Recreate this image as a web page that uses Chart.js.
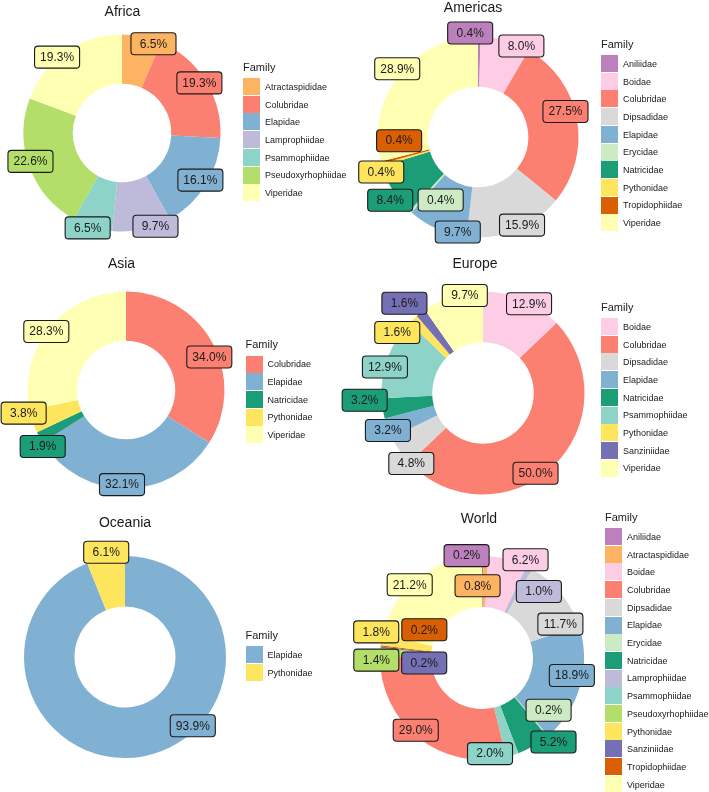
<!DOCTYPE html>
<html>
<head>
<meta charset="utf-8">
<script src="https://cdn.jsdelivr.net/npm/chart.js@4"></script>
<style>
  body { margin: 0; background: #fff; font-family: "Liberation Sans", Arial, sans-serif; }
  #fig { position: relative; width: 709px; height: 792px; overflow: hidden; }
  #fig canvas { position: absolute; }
  .title { position: absolute; font-size: 14px; color: #1a1a1a; transform: translate(-50%, -50%); white-space: nowrap; }
  .legTitle { position: absolute; font-size: 11px; color: #1a1a1a; transform: translateY(-50%); white-space: nowrap; }
  .key { position: absolute; width: 17px; height: 17px; }
  .keyText { position: absolute; font-size: 9px; color: #1a1a1a; transform: translateY(-50%); white-space: nowrap; }
</style>
</head>
<body>
<div id="fig"></div>
<script>
// family colours
const FAMILY_COLORS = {
  Aniliidae: "#bc80bd", Atractaspididae: "#fdb462", Boidae: "#fccde5",
  Colubridae: "#fb8072", Dipsadidae: "#d9d9d9", Elapidae: "#80b1d3",
  Erycidae: "#ccebc5", Natricidae: "#1b9e77", Lamprophiidae: "#bebada",
  Psammophiidae: "#8dd3c7", Pseudoxyrhophiidae: "#b3de69", Pythonidae: "#fee55e",
  Sanziniidae: "#7570b3", Tropidophiidae: "#d95f02", Viperidae: "#ffffb3",
};

// data (% of species per family)
const africaFamilies = ["Atractaspididae","Colubridae","Elapidae","Lamprophiidae","Psammophiidae","Pseudoxyrhophiidae","Viperidae"];
const africaShares = [6.5, 19.3, 16.1, 9.7, 6.5, 22.6, 19.3];

const americasFamilies = ["Aniliidae","Boidae","Colubridae","Dipsadidae","Elapidae","Erycidae","Natricidae","Pythonidae","Tropidophiidae","Viperidae"];
const americasShares = [0.4, 8.0, 27.5, 15.9, 9.7, 0.4, 8.4, 0.4, 0.4, 28.9];

const asiaFamilies = ["Colubridae","Elapidae","Natricidae","Pythonidae","Viperidae"];
const asiaShares = [34.0, 32.1, 1.9, 3.8, 28.3];

const europeFamilies = ["Boidae","Colubridae","Dipsadidae","Elapidae","Natricidae","Psammophiidae","Pythonidae","Sanziniidae","Viperidae"];
const europeShares = [12.9, 50.0, 4.8, 3.2, 3.2, 12.9, 1.6, 1.6, 9.7];

const oceaniaFamilies = ["Elapidae","Pythonidae"];
const oceaniaShares = [93.9, 6.1];

// world: slice order as drawn, legend order alphabetical
const worldFamilies = ["Aniliidae","Atractaspididae","Boidae","Lamprophiidae","Dipsadidae","Elapidae","Erycidae","Natricidae","Psammophiidae","Colubridae","Pseudoxyrhophiidae","Sanziniidae","Tropidophiidae","Pythonidae","Viperidae"];
const worldShares = [0.2, 0.8, 6.2, 1.0, 11.7, 18.9, 0.2, 5.2, 2.0, 29.0, 1.4, 0.2, 0.2, 1.8, 21.2];
const worldLegend = ["Aniliidae","Atractaspididae","Boidae","Colubridae","Dipsadidae","Elapidae","Erycidae","Natricidae","Lamprophiidae","Psammophiidae","Pseudoxyrhophiidae","Pythonidae","Sanziniidae","Tropidophiidae","Viperidae"];

// label nudges (px) away from the slice anchor, repel-style
const africaNudge = [[13,0],[0,-2],[1,-1],[15,4],[-7,8],[-6,-3],[-13,-1]];
const americasNudge = [[-9,-11],[18,-1.5],[-4,-9],[9,2],[17.5,10],[25,-6],[-9,14],[-7.5,9],[11,-20],[-7.5,-11]];
const asiaNudge = [[3.5,11],[-4,3.5],[-3.5,12.5],[-16,-6],[-9,-1]];
const europeNudge = [[9,-3],[-12,12],[5.5,17],[-7,5],[-25.5,-7],[-10,6.5],[-21,7.5],[-21,-15.6],[10,-8]];
const oceaniaNudge = [[50,-23],[-1,-13]];
const worldNudge = [[-16,-8],[-8,22],[19.5,-7],[13,17],[5.5,26],[-1,-8],[6,-20],[24,2.5],[-20,5.5],[-7.5,-1.5],[-11.5,7.5],[36,15],[36,-17],[-13,-9],[-14,1]];

const PANELS = [
  { title: "Africa",   fam: africaFamilies,   val: africaShares,   nudge: africaNudge,   leg: africaFamilies,
    cx: 121.5, cy: 133,   r: 98.5,  tx: 122.5, ty: 11,    lx: 243,   ly: 78 },
  { title: "Americas", fam: americasFamilies, val: americasShares, nudge: americasNudge, leg: americasFamilies,
    cx: 477.5, cy: 137,   r: 100.5, tx: 473,   ty: 6.5,   lx: 601,   ly: 55 },
  { title: "Asia",     fam: asiaFamilies,     val: asiaShares,     nudge: asiaNudge,     leg: asiaFamilies,
    cx: 126,   cy: 389.5, r: 98.5,  tx: 121.5, ty: 263,   lx: 245.5, ly: 355.5 },
  { title: "Europe",   fam: europeFamilies,   val: europeShares,   nudge: europeNudge,   leg: europeFamilies,
    cx: 483,   cy: 392.5, r: 101.5, tx: 475,   ty: 263,   lx: 601,   ly: 318 },
  { title: "Oceania",  fam: oceaniaFamilies,  val: oceaniaShares,  nudge: oceaniaNudge,  leg: oceaniaFamilies,
    cx: 125,   cy: 657,   r: 101,   tx: 125,   ty: 521.5, lx: 245.5, ly: 646 },
  { title: "World",    fam: worldFamilies,    val: worldShares,    nudge: worldNudge,    leg: worldLegend,
    cx: 481.5, cy: 657.5, r: 102,   tx: 479,   ty: 517.5, lx: 605,   ly: 528 },
];

const FONT = '"Liberation Sans", Arial, sans-serif';
const HALF = 150; // half-size of each chart canvas
const STEP = 17.7; // legend row step

// boxed percentage labels drawn at each arc
const boxLabels = {
  id: "boxLabels",
  afterDatasetsDraw(chart, args, opts) {
    const { ctx } = chart;
    const meta = chart.getDatasetMeta(0);
    const ds = chart.data.datasets[0];
    ctx.save();
    ctx.font = "12px " + FONT;
    const w = ctx.measureText("00.0%").width + 11;
    const h = 22;
    meta.data.forEach((arc, i) => {
      const p = arc.getProps(["x", "y", "startAngle", "endAngle", "outerRadius"], true);
      const mid = (p.startAngle + p.endAngle) / 2;
      const lx = p.x + 0.925 * p.outerRadius * Math.cos(mid) + opts.nudge[i][0];
      const ly = p.y + 0.925 * p.outerRadius * Math.sin(mid) + opts.nudge[i][1];
      ctx.beginPath();
      ctx.roundRect(lx - w / 2, ly - h / 2, w, h, 3.5);
      ctx.fillStyle = ds.backgroundColor[i];
      ctx.fill();
      ctx.lineWidth = 1.1;
      ctx.strokeStyle = "#1a1a1a";
      ctx.stroke();
      ctx.fillStyle = "#1a1a1a";
      ctx.textAlign = "center";
      ctx.textBaseline = "middle";
      ctx.fillText(ds.data[i].toFixed(1) + "%", lx, ly + 0.5);
    });
    ctx.restore();
  },
};

const fig = document.getElementById("fig");

function addDiv(cls, text, x, y, extra) {
  const d = document.createElement("div");
  d.className = cls;
  if (text) d.textContent = text;
  d.style.left = x + "px";
  d.style.top = y + "px";
  if (extra) Object.assign(d.style, extra);
  fig.appendChild(d);
  return d;
}

PANELS.forEach(pn => {
  const canvas = document.createElement("canvas");
  canvas.width = HALF * 2;
  canvas.height = HALF * 2;
  canvas.style.left = (pn.cx - HALF) + "px";
  canvas.style.top = (pn.cy - HALF) + "px";
  fig.appendChild(canvas);

  new Chart(canvas, {
    type: "doughnut",
    data: {
      labels: pn.fam,
      datasets: [{
        data: pn.val,
        backgroundColor: pn.fam.map(f => FAMILY_COLORS[f]),
        borderWidth: 0,
        hoverOffset: 0,
      }],
    },
    options: {
      responsive: false,
      animation: false,
      events: [],
      radius: pn.r,
      cutout: "50%",
      plugins: {
        legend: { display: false },
        tooltip: { enabled: false },
        boxLabels: { nudge: pn.nudge },
      },
    },
    plugins: [boxLabels],
  });

  addDiv("title", pn.title, pn.tx, pn.ty);
  addDiv("legTitle", "Family", pn.lx, pn.ly - 11.5);
  pn.leg.forEach((f, i) => {
    const y = pn.ly + i * STEP;
    addDiv("key", "", pn.lx, y, { background: FAMILY_COLORS[f] });
    addDiv("keyText", f, pn.lx + 22, y + 8.8);
  });
});
</script>
</body>
</html>
